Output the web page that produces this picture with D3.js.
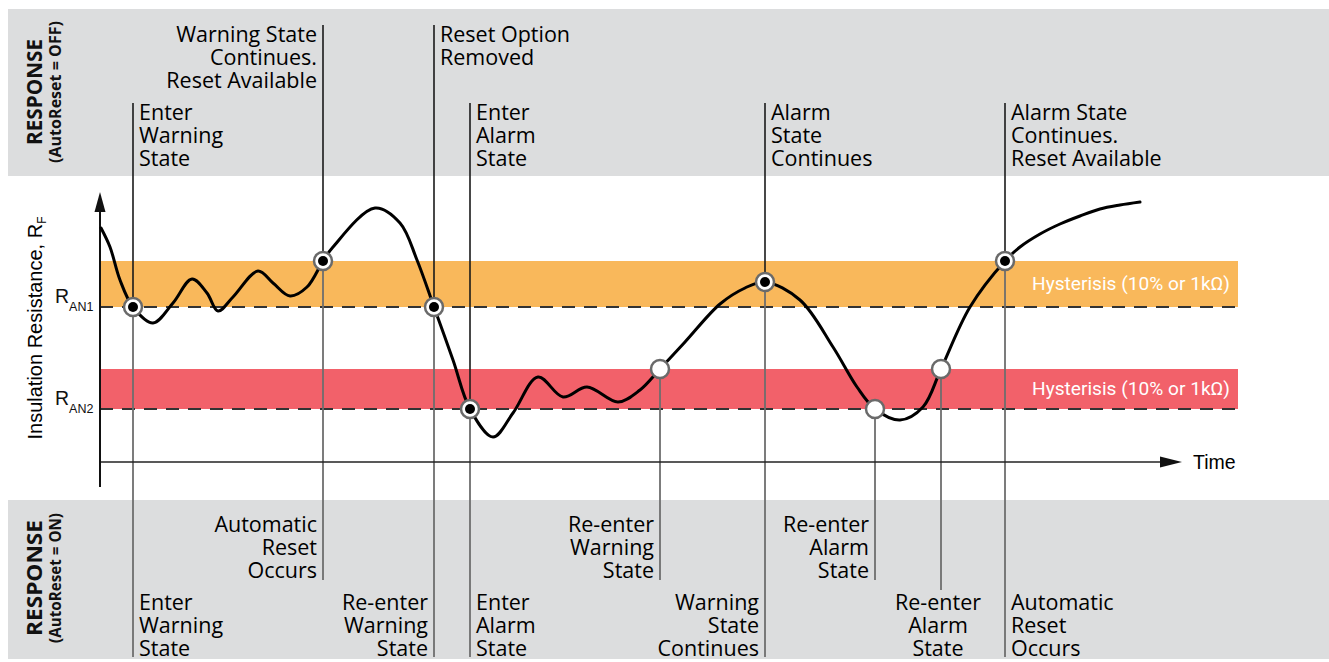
<!DOCTYPE html>
<html>
<head>
<meta charset="utf-8">
<script src="https://cdn.jsdelivr.net/npm/d3@7/dist/d3.min.js"></script>
<style>
  html, body { margin: 0; padding: 0; background: #fff; }
  svg { display: block; }
</style>
</head>
<body>
<svg id="chart" width="1329" height="662"></svg>
<script>
// ---------------- DATA ----------------
// Insulation resistance curve (time units, resistance units)
const curveTime = [0.1, 1.0, 2.0, 3.3, 5.3, 7.3, 9.2, 10.7, 11.8, 13.3, 15.8, 17.3, 19.0, 20.7, 22.3, 23.3, 27.5, 30.0, 31.7, 33.4, 35.3, 37.0, 39.3, 41.3, 43.8, 46.3, 48.7, 51.8, 54.0, 56.0, 58.5, 62.0, 64.5, 66.5, 70.0, 73.3, 75.7, 77.5, 80.0, 82.3, 84.1, 87.0, 90.5, 92.0, 94.0, 96.0, 98.0, 100.0, 102.0, 104.0];
const curveRes  = [23.4, 21.5, 18.2, 15.5, 13.9, 15.9, 18.3, 16.9, 15.1, 16.5, 19.1, 17.9, 16.6, 17.5, 20.1, 21.5, 25.4, 23.9, 20.2, 15.5, 10.2, 5.3, 2.5, 4.9, 8.5, 6.5, 7.5, 6.0, 7.2, 9.3, 12.0, 15.8, 17.4, 18.0, 16.2, 11.5, 7.5, 5.3, 4.2, 5.5, 9.3, 15.5, 20.1, 21.5, 22.8, 23.8, 24.6, 25.3, 25.7, 26.0];

// Thresholds
const thresholdNames  = ["AN1", "AN2"];
const thresholdValues = [15.5, 5.3];
const hysteresisTop   = [20.1, 9.3];
const hysteresisLabel = "Hysterisis (10% or 1kΩ)";

// Events
const eventTime   = [3.3, 22.3, 33.4, 37.0, 56.0, 66.5, 77.5, 84.1, 90.5];
const eventRes    = [15.5, 20.1, 15.5, 5.3, 9.3, 18.0, 5.3, 9.3, 20.1];
const eventFilled = [true, true, true, true, false, true, false, false, true];

// Response texts: AutoReset = OFF (top) and AutoReset = ON (bottom)
const topLabels = [
  ["Enter", "Warning", "State"],
  ["Warning State", "Continues.", "Reset Available"],
  ["Reset Option", "Removed"],
  ["Enter", "Alarm", "State"],
  null,
  ["Alarm", "State", "Continues"],
  null,
  null,
  ["Alarm State", "Continues.", "Reset Available"]
];
const bottomLabels = [
  ["Enter", "Warning", "State"],
  ["Automatic", "Reset", "Occurs"],
  ["Re-enter", "Warning", "State"],
  ["Enter", "Alarm", "State"],
  ["Re-enter", "Warning", "State"],
  ["Warning", "State", "Continues"],
  ["Re-enter", "Alarm", "State"],
  ["Re-enter", "Alarm", "State"],
  ["Automatic", "Reset", "Occurs"]
];
const axisLabelY = "Insulation Resistance, R";
const axisLabelYSub = "F";
const axisLabelX = "Time";
const sideTitle = "RESPONSE";
const sideSubs = ["(AutoReset = OFF)", "(AutoReset = ON)"];

// ---------------- LAYOUT ----------------
// label layout: [row (0 = upper, 1 = lower), anchor]
const topLayout = [[1,"start"],[0,"end"],[0,"start"],[1,"start"],null,[1,"start"],null,null,[1,"start"]];
const bottomLayout = [[1,"start"],[0,"end"],[1,"end"],[1,"start"],[0,"end"],[1,"end"],[0,"end"],[1,"middle"],[1,"start"]];

const svg = d3.select("#chart");
const W = 1329, H = 662;

const x = d3.scaleLinear().domain([0, 108.2]).range([100, 1182]);
const y = d3.scaleLinear().domain([0, 27]).range([462, 192]);

const textFont = "'Open Sans', 'Noto Sans', sans-serif";
const plainFont = "'Liberation Sans', Arial, sans-serif";

// Bands
const bandColor = "#dcddde";
svg.append("rect").attr("x", 8).attr("y", 9).attr("width", W - 8).attr("height", 167).attr("fill", bandColor);
svg.append("rect").attr("x", 8).attr("y", 500).attr("width", W - 8).attr("height", 159).attr("fill", bandColor);

// Side titles
const sideCenters = [92, 578];
sideCenters.forEach((cy, i) => {
  const g = svg.append("g").attr("transform", `translate(0,${cy}) rotate(-90)`);
  g.append("text").attr("x", 0).attr("y", 42).attr("text-anchor", "middle")
    .attr("font-family", textFont).attr("font-weight", 700).attr("font-size", 21)
    .attr("textLength", i === 0 ? 106 : 116).attr("lengthAdjust", "spacingAndGlyphs")
    .attr("fill", "#111").text(sideTitle);
  g.append("text").attr("x", 0).attr("y", 61).attr("text-anchor", "middle")
    .attr("font-family", textFont).attr("font-weight", 700).attr("font-size", 15.5)
    .attr("textLength", i === 0 ? 142 : 130).attr("lengthAdjust", "spacingAndGlyphs")
    .attr("fill", "#111").text(sideSubs[i]);
});

// Hysteresis bands
const bandColors = ["#f9b85b", "#f2616a"];
const xEnd = x.invert(1238);
thresholdValues.forEach((v, i) => {
  svg.append("rect")
    .attr("x", x(0)).attr("y", y(hysteresisTop[i]))
    .attr("width", x(xEnd) - x(0)).attr("height", y(v) - y(hysteresisTop[i]))
    .attr("fill", bandColors[i]);
  svg.append("text")
    .attr("x", x(xEnd) - 8).attr("y", (y(v) + y(hysteresisTop[i])) / 2 + 6)
    .attr("text-anchor", "end").attr("font-family", "Roboto, sans-serif").attr("font-size", 17.5)
    .attr("textLength", 198).attr("lengthAdjust", "spacingAndGlyphs")
    .attr("fill", "#fff").text(hysteresisLabel);
  svg.append("line")
    .attr("x1", x(0)).attr("x2", x(xEnd)).attr("y1", y(v)).attr("y2", y(v))
    .attr("stroke", "#333").attr("stroke-width", 2).attr("stroke-dasharray", "13,9");
  const t = svg.append("text").attr("x", 55).attr("y", y(v) - 4)
    .attr("font-family", plainFont).attr("font-size", 19.5).attr("fill", "#111");
  t.append("tspan").text("R");
  t.append("tspan").attr("font-size", 12.5).attr("dy", 8).text(thresholdNames[i]);
});

// Vertical event lines
const topRowY = [25, 103];
const bottomRowEnd = [580, 657];
eventTime.forEach((tv, i) => {
  const px = x(tv), py = y(eventRes[i]);
  if (topLayout[i]) {
    svg.append("line").attr("x1", px).attr("x2", px)
      .attr("y1", topRowY[topLayout[i][0]]).attr("y2", py)
      .attr("stroke", "#1a1a1a").attr("stroke-width", 1.6);
  }
  const bl = bottomLayout[i];
  const endY = bl[1] === "middle" ? 590 : bottomRowEnd[bl[0]];
  svg.append("line").attr("x1", px).attr("x2", px)
    .attr("y1", py).attr("y2", endY)
    .attr("stroke", "#6e6e6e").attr("stroke-width", 1.8);
});

// Axes
const xAxis = d3.axisBottom(x).tickValues([]).tickSizeOuter(0);
const yAxis = d3.axisLeft(y).tickValues([]).tickSizeOuter(0);
svg.append("g").attr("transform", `translate(0,${y(0)})`).call(xAxis)
  .call(g => g.select(".domain").attr("stroke", "#222").attr("stroke-width", 1.6)
     .attr("d", `M${x(0)},0H${x(108.2) - 18}`));
svg.append("g").attr("transform", `translate(${x(0)},0)`).call(yAxis)
  .call(g => g.select(".domain").attr("stroke", "#111").attr("stroke-width", 2)
     .attr("d", `M0,${y(-2.5)}V${y(27) + 16}`));
// arrowheads
svg.append("path").attr("d", `M${x(108.2)},${y(0)} L${x(108.2) - 22},${y(0) - 5.5} L${x(108.2) - 22},${y(0) + 5.5} Z`).attr("fill", "#111");
svg.append("path").attr("d", `M${x(0)},${y(27)} L${x(0) - 5.5},${y(27) + 20} L${x(0) + 5.5},${y(27) + 20} Z`).attr("fill", "#111");

svg.append("text").attr("x", x(108.2) + 11).attr("y", y(0) + 7)
  .attr("font-family", plainFont).attr("font-size", 19.5).attr("fill", "#000").text(axisLabelX);
const yl = svg.append("text").attr("transform", `translate(42,${(y(0) + y(27)) / 2 + 1}) rotate(-90)`)
  .attr("text-anchor", "middle").attr("font-family", plainFont).attr("font-size", 20).attr("fill", "#000");
yl.append("tspan").text(axisLabelY);
yl.append("tspan").attr("font-size", 12).attr("dy", 4).text(axisLabelYSub);

// Curve
const pts = curveTime.map((t, i) => [t, curveRes[i]]);
const line = d3.line().x(d => x(d[0])).y(d => y(d[1])).curve(d3.curveCatmullRom.alpha(0.5));
svg.append("path").datum(pts).attr("d", line)
  .attr("fill", "none").attr("stroke", "#000").attr("stroke-width", 3).attr("stroke-linecap", "round");

// Markers
eventTime.forEach((tv, i) => {
  const px = x(tv), py = y(eventRes[i]);
  svg.append("circle").attr("cx", px).attr("cy", py).attr("r", 9)
    .attr("fill", "#fff").attr("stroke", "#6a6a6a").attr("stroke-width", 2.5);
  if (eventFilled[i]) {
    svg.append("circle").attr("cx", px).attr("cy", py).attr("r", 5).attr("fill", "#000");
  }
});

// Response labels
function drawLabel(lines, px, baseY, anchor) {
  const t = svg.append("text").attr("font-family", textFont).attr("font-size", 21.5)
    .attr("fill", "#000").attr("text-anchor", anchor);
  const dx = anchor === "start" ? 6 : anchor === "end" ? -6 : -3;
  lines.forEach((s, k) => {
    t.append("tspan").attr("x", px + dx).attr("y", baseY + k * 22.8).text(s);
  });
}
const topBase = [42, 120];
const bottomBase = [532, 610];
eventTime.forEach((tv, i) => {
  const px = x(tv);
  if (topLabels[i]) drawLabel(topLabels[i], px, topBase[topLayout[i][0]], topLayout[i][1]);
  if (bottomLabels[i]) drawLabel(bottomLabels[i], px, bottomBase[bottomLayout[i][0]], bottomLayout[i][1]);
});
</script>
</body>
</html>
